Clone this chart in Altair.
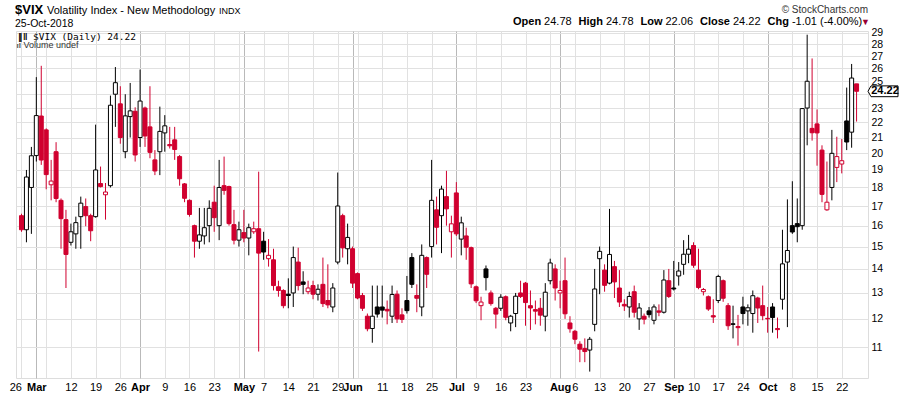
import altair as alt
import pandas as pd

# ---------------- data ----------------
opens = [16.5, 15.8, 18.0, 19.86, 22.44, 21.5, 18.15, 20.1, 17.3, 16.3,
         15.2, 15.6, 16.45, 16.97, 16.5, 16.45, 18.22, 17.6, 18.1, 24.0,
         23.3, 20.1, 22.4, 22.77, 21.0, 23.0, 21.7, 19.6, 20.1, 21.3,
         20.55, 20.85, 19.8, 18.2, 17.3, 16.0, 15.25, 15.5, 16.0, 17.2,
         16.0, 18.1, 18.05, 16.05, 15.3, 15.66, 15.4, 15.7, 15.85, 15.25,
         14.45, 14.4, 13.25, 13.1, 12.95, 13.0, 14.3, 13.45, 13.05, 13.3,
         12.95, 13.35, 12.7, 12.45, 14.3, 16.5, 14.9, 14.9, 13.8, 12.9,
         12.1, 11.65, 12.45, 12.45, 12.36, 12.1, 12.95, 12.15, 12.7, 14.5,
         12.9, 12.45, 14.5, 15.0, 16.8, 16.5, 17.5, 15.7, 17.7, 15.35,
         15.5, 14.95, 13.25, 12.5, 14.0, 13.0, 12.4, 12.4, 12.85, 11.85,
         12.2, 13.0, 13.4, 12.5, 12.35, 12.4, 12.1, 13.5, 14.0, 13.0,
         13.5, 11.85, 11.55, 11.1, 10.95, 10.9, 11.8, 14.45, 13.95, 13.4,
         14.1, 13.2, 12.55, 12.45, 13.05, 12.0, 12.1, 12.3, 11.95, 12.3,
         12.25, 13.5, 13.2, 13.7, 14.2, 14.65, 15.05, 13.95, 13.05, 12.85,
         12.12, 12.7, 13.5, 12.5, 11.82, 11.72, 12.45, 12.3, 12.2, 12.8,
         12.5, 12.02, 12.45, 11.65, 12.75, 14.3, 16.0, 16.1, 16.0, 23.0,
         21.6, 21.9, 20.2, 16.8, 18.0, 19.15, 19.35, 22.1, 21.35, 24.78]
highs = [16.6, 19.0, 20.4, 25.3, 26.2, 21.6, 19.6, 20.7, 17.4, 16.8,
         16.1, 16.45, 17.5, 17.4, 16.6, 21.85, 19.2, 18.25, 23.9, 26.1,
         24.6, 24.0, 24.85, 23.05, 25.9, 23.1, 24.6, 20.2, 23.1, 22.5,
         21.7, 21.7, 19.9, 18.25, 17.35, 16.05, 16.9, 16.9, 17.3, 18.1,
         19.6, 19.8, 18.1, 16.8, 16.2, 16.8, 16.1, 16.2, 18.9, 15.7,
         15.35, 14.9, 13.5, 13.15, 13.6, 15.0, 14.95, 13.9, 13.5, 13.5,
         13.35, 14.5, 14.2, 13.4, 18.85, 16.6, 16.1, 15.0, 13.85, 13.0,
         12.2, 13.3, 13.3, 13.3, 12.7, 13.3, 13.1, 12.4, 13.7, 14.7,
         13.35, 15.1, 14.55, 19.6, 17.5, 18.1, 18.95, 16.5, 18.3, 16.45,
         15.9, 15.0, 13.3, 12.85, 14.15, 13.1, 12.45, 12.95, 12.9, 12.15,
         13.0, 13.5, 13.45, 13.1, 12.7, 12.8, 13.4, 14.45, 14.2, 13.5,
         14.5, 12.1, 11.6, 11.2, 11.3, 11.35, 14.0, 15.0, 14.2, 16.85,
         14.35, 13.95, 12.75, 13.05, 13.3, 12.6, 12.2, 12.45, 12.55, 12.55,
         13.95, 14.0, 14.35, 14.3, 15.3, 15.55, 15.2, 14.9, 13.2, 12.9,
         12.75, 13.75, 13.55, 12.6, 12.5, 12.15, 12.85, 12.55, 13.1, 12.85,
         13.3, 12.45, 12.6, 12.05, 15.8, 17.35, 18.35, 17.4, 23.0, 28.84,
         26.8, 22.9, 20.5, 19.5, 21.5, 21.05, 20.9, 24.5, 26.35, 24.78]
lows = [15.7, 15.2, 15.6, 19.5, 19.3, 17.9, 17.3, 17.2, 14.9, 13.2,
        15.05, 14.9, 14.9, 15.97, 15.25, 16.4, 18.0, 16.3, 18.0, 21.7,
        20.6, 19.7, 21.0, 19.5, 20.4, 20.4, 19.7, 18.7, 18.7, 20.1,
        20.3, 19.6, 18.1, 17.2, 16.45, 14.5, 14.9, 15.1, 15.2, 15.7,
        15.3, 17.6, 16.0, 15.1, 15.0, 15.2, 14.6, 15.6, 10.85, 14.4,
        14.1, 13.1, 12.85, 12.4, 12.4, 12.45, 13.1, 12.95, 12.95, 12.75,
        12.7, 12.45, 12.4, 12.25, 14.2, 14.5, 14.2, 13.2, 12.75, 12.3,
        11.55, 11.15, 12.05, 12.05, 11.8, 11.85, 11.85, 11.85, 12.2, 13.2,
        12.25, 12.1, 13.2, 14.5, 15.1, 14.7, 16.0, 14.5, 15.5, 14.6,
        14.4, 13.2, 12.6, 11.95, 13.1, 12.5, 11.65, 12.3, 11.95, 11.55,
        11.7, 12.8, 11.75, 11.6, 11.8, 11.75, 11.55, 13.35, 12.7, 12.4,
        12.0, 11.5, 11.1, 10.5, 10.5, 10.2, 11.55, 12.95, 13.05, 13.35,
        12.8, 12.45, 12.3, 12.05, 12.05, 11.6, 11.8, 12.05, 11.8, 12.1,
        12.2, 12.8, 13.1, 13.3, 13.75, 14.25, 14.05, 13.15, 12.9, 12.3,
        11.85, 12.6, 12.65, 11.6, 11.3, 11.05, 11.8, 11.75, 11.5, 11.85,
        11.95, 11.5, 11.5, 11.3, 12.35, 11.7, 15.6, 15.2, 15.8, 20.5,
        20.8, 19.25, 17.2, 16.75, 17.3, 18.3, 18.8, 20.2, 20.35, 22.06]
closes = [15.8, 18.59, 19.85, 22.47, 19.59, 18.73, 18.36, 17.4, 16.35, 14.64,
          15.7, 16.15, 17.15, 16.5, 15.75, 19.0, 18.05, 17.75, 23.2, 24.87,
          21.0, 22.45, 22.8, 19.9, 23.5, 21.1, 20.06, 18.94, 21.4, 21.77,
          20.47, 20.24, 18.49, 17.41, 16.56, 15.25, 15.55, 15.9, 16.88, 16.4,
          18.0, 17.84, 16.1, 15.3, 15.8, 15.4, 15.9, 15.85, 14.7, 14.75,
          14.6, 13.3, 13.1, 12.5, 12.9, 14.5, 13.3, 13.35, 13.2, 12.95,
          13.15, 12.58, 12.53, 13.2, 17.0, 14.94, 15.43, 13.4, 12.8, 12.4,
          11.64, 12.1, 12.18, 12.33, 12.3, 12.94, 12.0, 11.98, 12.31, 13.35,
          12.79, 14.6, 13.77, 17.3, 15.92, 17.91, 16.85, 16.09, 15.6, 16.14,
          14.97, 13.37, 12.69, 12.64, 13.63, 12.58, 12.18, 12.83, 12.06, 12.1,
          12.87, 12.86, 12.62, 12.41, 12.29, 12.14, 13.03, 14.26, 13.2, 13.1,
          12.19, 11.64, 11.27, 10.93, 10.85, 11.27, 13.16, 14.78, 13.31, 14.64,
          13.45, 12.64, 12.49, 12.86, 12.25, 12.41, 11.99, 12.16, 12.45, 12.25,
          13.53, 12.86, 13.16, 13.91, 14.65, 14.88, 14.16, 13.22, 13.14, 12.37,
          12.07, 13.68, 12.79, 11.75, 11.8, 11.68, 12.2, 12.42, 12.89, 12.41,
          12.12, 12.0, 12.05, 11.61, 14.22, 14.82, 15.69, 15.95, 22.96, 24.98,
          21.31, 21.30, 17.62, 17.2, 20.0, 19.8, 19.55, 20.71, 25.23, 24.22]
prev_close_before_first = 16.49

# x-axis: trading-day index of each gridline and its label
tick_idx = [0, 3, 5, 10, 15, 20, 24, 29, 34, 39, 44, 45, 49, 54, 59, 64, 67, 68,
            73, 78, 83, 88, 92, 97, 102, 107, 109, 112, 117, 122, 127, 132, 136,
            141, 146, 151, 156, 161, 166]
tick_lab = ["26", "Mar", "", "12", "19", "26", "Apr", "9", "16", "23", "", "May",
            "7", "14", "21", "29", "Jun", "", "11", "18", "25", "Jul", "9", "16",
            "23", "", "Aug", "6", "13", "20", "27", "Sep", "10", "17", "24", "Oct",
            "8", "15", "22"]
month_idx = [3, 24, 45, 67, 88, 109, 132, 151]
y_ticks = list(range(11, 30))
last_close = 24.22

RED = "#d0002f"
BLACK = "#000000"

rows = []
for i, (o, h, l, c) in enumerate(zip(opens, highs, lows, closes)):
    prev = closes[i - 1] if i > 0 else prev_close_before_first
    rows.append(dict(i=i, o=o, h=h, l=l, c=c,
                     col=RED if c < prev else BLACK,
                     filled=bool(c < o)))
df = pd.DataFrame(rows)

W, H = 852, 347
PAD_L, PAD_T = 16, 31
FONT = "Liberation Sans, Arial, sans-serif"
NARROW = "Liberation Sans Narrow, Liberation Sans, Arial, sans-serif"

month_test = "indexof([" + ",".join(str(v) for v in month_idx) + "], datum.value) >= 0"
label_expr = ("[" + ",".join("'" + s + "'" for s in tick_lab) + "][indexof(["
              + ",".join(str(v) for v in tick_idx) + "], datum.value)]")

x_axis = alt.Axis(values=tick_idx, title=None, labelExpr=label_expr,
                  grid=True,
                  gridColor={"condition": {"test": month_test, "value": "#b9b9b9"},
                             "value": "#e1e1e1"},
                  labelFontWeight={"condition": {"test": month_test, "value": "bold"},
                                   "value": "normal"},
                  labelAlign={"condition": {"test": "datum.value == 0", "value": "right"},
                              "value": "center"},
                  ticks=False, domain=False, labelPadding=3,
                  labelFont=NARROW, labelFontSize=11, labelColor="#000",
                  labelOverlap=False, labelFlush=False, labelBound=False)
x_enc = alt.X("i:Q", scale=alt.Scale(domain=[-0.1, 170.3], nice=False, zero=False),
              axis=x_axis)
y_scale = alt.Scale(type="log", domain=[10, 29.17], nice=False)
y_axis = alt.Axis(orient="right", values=y_ticks, title=None, grid=True,
                  gridColor="#e1e1e1", ticks=False, domain=False,
                  labelPadding=3, labelExpr="datum.value == 24 ? '' : datum.label",
                  format="d", labelFont=FONT, labelFontSize=10.5, labelColor="#000",
                  labelOverlap=False)

base = alt.Chart(df)
wicks = base.mark_rule(strokeWidth=1, clip=True).encode(
    x=x_enc, y=alt.Y("l:Q", scale=y_scale, axis=y_axis), y2="h:Q",
    color=alt.Color("col:N", scale=None))
filled = base.transform_filter("datum.filled").mark_bar(size=4, strokeWidth=1, clip=True).encode(
    x=x_enc, y=alt.Y("o:Q", scale=y_scale, axis=y_axis), y2="c:Q",
    fill=alt.Fill("col:N", scale=None), stroke=alt.Stroke("col:N", scale=None))
hollow = base.transform_filter("!datum.filled").mark_bar(size=4, strokeWidth=1, fill="white", clip=True).encode(
    x=x_enc, y=alt.Y("o:Q", scale=y_scale, axis=y_axis), y2="c:Q",
    stroke=alt.Stroke("col:N", scale=None))

# last-price tag on the right
tag_df = pd.DataFrame({"v": [last_close], "t": [f"{last_close:.2f}"]})
tag_box = alt.Chart(tag_df).mark_point(
    shape="M -1 0 L -0.8 -0.36 L 1 -0.36 L 1 0.36 L -0.8 0.36 Z",
    size=900, filled=True, fill="white", stroke="black", strokeWidth=1, opacity=1
).encode(x=alt.value(867), y=alt.Y("v:Q", scale=y_scale, axis=y_axis))
tag_txt = alt.Chart(tag_df).mark_text(
    font=FONT, fontSize=11, fontWeight="bold", color="black", align="center", baseline="middle"
).encode(x=alt.value(869), y=alt.Y("v:Q", scale=y_scale, axis=y_axis), text="t:N")


def label(text, x_abs, y_abs, size=11, weight="normal", color="#000", align="left", font=FONT):
    return alt.Chart(pd.DataFrame({"t": [text]})).mark_text(
        font=font, fontSize=size, fontWeight=weight, color=color, align=align,
        baseline="alphabetic"
    ).encode(x=alt.value(x_abs - PAD_L), y=alt.value(y_abs - PAD_T), text="t:N")


texts = [
    label("$VIX", 15, 13.5, size=13, weight="bold"),
    label("Volatility Index - New Methodology", 47, 13.5, size=11),
    label("INDX", 219, 13.5, size=9),
    label("25-Oct-2018", 15, 26.5, size=10.5),
    label("\u00a9 StockCharts.com", 868, 12.5, size=10, color="#333", align="right"),
    label("\u2225\u2016", 18, 39.5, size=9, weight="bold"),
    label("$VIX (Daily) 24.22", 33, 39.5, size=9.5, font="DejaVu Sans Mono, monospace"),
    label("\u0131l", 16.5, 48, size=8, weight="bold", color="#555"),
    label("Volume undef", 23.5, 48, size=9, color="#333"),
]

# header quote line
pieces = [("Open", True), ("24.78", False), ("High", True), ("24.78", False),
          ("Low", True), ("22.06", False), ("Close", True), ("24.22", False),
          ("Chg", True), ("-1.01 (-4.00%)", False)]
widths = {"Open": 28.1, "High": 24.4, "Low": 22.0, "Close": 30.0, "Chg": 21.4,
          "24.78": 27.5, "22.06": 27.5, "24.22": 27.5, "-1.01 (-4.00%)": 70.4}
xcur = 513
for t, bold in pieces:
    texts.append(label(t, xcur, 24.5, size=11, weight="bold" if bold else "normal"))
    xcur += widths[t] + (3 if bold else 7)
texts.append(label("\u25bc", 861, 24.5, size=9, color="#990033"))

chart = alt.layer(wicks, hollow, filled, tag_box, tag_txt, *texts).properties(
    width=W, height=H,
    autosize=alt.AutoSizeParams(type="none"),
    padding={"left": PAD_L, "top": PAD_T, "right": 900 - PAD_L - W, "bottom": 396 - PAD_T - H},
).configure_view(stroke="#999", strokeWidth=1).configure_axis(
    labelOverlap=False
).configure(background="white")

chart.save("out.html", embed_options={"renderer": "svg", "actions": False})
